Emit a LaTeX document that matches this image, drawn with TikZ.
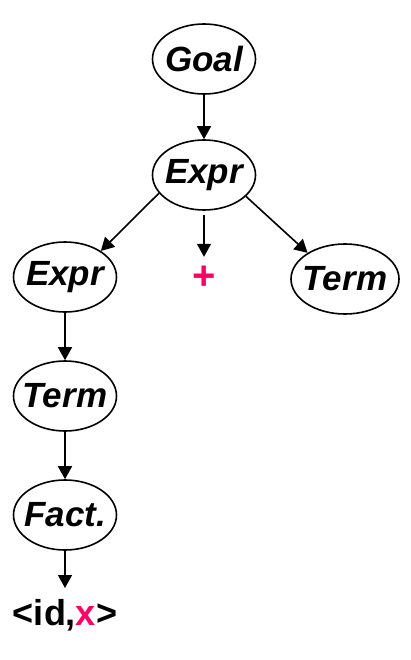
\documentclass[tikz,border=0pt]{standalone}
\usepackage{fontspec}
\setmainfont{Liberation Sans}
\usetikzlibrary{arrows.meta,shapes.geometric}
\definecolor{hot}{RGB}{255,0,102}
\begin{document}
\begin{tikzpicture}[x=1pt,y=-1pt,
  nt/.style={ellipse,draw,line width=1.6pt,minimum width=103pt,minimum height=70pt,
    inner xsep=-12pt,inner ysep=-8pt,font=\fontsize{35}{35}\selectfont\bfseries\itshape},
  tm/.style={inner sep=0pt,font=\fontsize{36}{36}\selectfont\bfseries},
  edge/.style={line width=1.6pt,-{Triangle[length=13pt,width=14pt]}}]
\useasboundingbox (0,0) rectangle (410,660);
\node[nt] (goal) at (204,59) {Goal};
\node[nt] (expr) at (204,175) {Expr};
\node[tm,text=hot,minimum height=42pt,font=\fontsize{40}{40}\selectfont\bfseries] (plus) at (204,278) {+};
\node[nt] (exprl) at (65,277) {Expr};
\node[nt,minimum width=108pt] (termr) at (345,279) {Term};
\node[nt] (terml) at (65,396) {Term};
\node[nt] (fact) at (65,515) {Fact.};
\node[tm,anchor=base] (id) at (65,625) {<id,\textcolor{hot}{x}>};
\draw[edge] (goal) -- (expr);
\draw[edge] (expr.202) -- (exprl.36);
\draw[edge,shorten <=4pt] (expr) -- (plus);
\draw[edge] (expr.333) -- (termr.145);
\draw[edge] (exprl) -- (terml);
\draw[edge] (terml) -- (fact);
\draw[edge] (fact.south) -- (65,588);
\end{tikzpicture}
\end{document}
